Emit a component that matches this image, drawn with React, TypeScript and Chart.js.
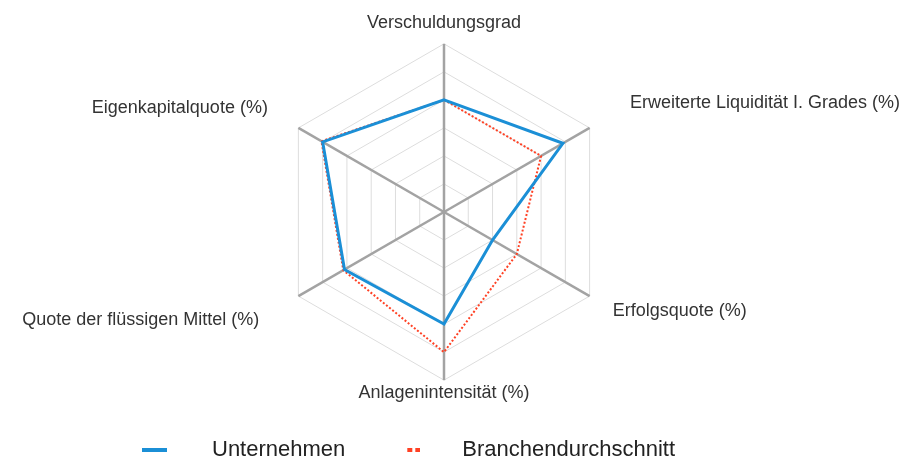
import { useEffect, useRef } from 'react';
import { Chart, registerables } from 'chart.js';

Chart.register(...registerables);

// ---- data ----
const categories = [
  'Verschuldungsgrad',
  'Erweiterte Liquidität I. Grades (%)',
  'Erfolgsquote (%)',
  'Anlagenintensität (%)',
  'Quote der flüssigen Mittel (%)',
  'Eigenkapitalquote (%)',
];
const seriesNames = ['Unternehmen', 'Branchendurchschnitt'];
const unternehmen = [4.0, 4.9, 2.0, 4.0, 4.1, 5.0];
const branchendurchschnitt = [4.0, 4.0, 3.0, 5.0, 4.15, 5.05];
const scaleMin = 0;
const scaleMax = 6;
const scaleStep = 1;

// ---- styles ----
const BLUE = '#1b8fd6';
const RED = '#ff4124';
const FONT = '"Liberation Sans", Arial, Helvetica, sans-serif';
const labelPadding = [18.7, 46.5, 26.7, 11, 45.2, 35.2];

function makeMarker(kind: 'solid' | 'dash'): HTMLCanvasElement {
  const c = document.createElement('canvas');
  if (kind === 'solid') {
    c.width = 25;
    c.height = 4;
    const g = c.getContext('2d')!;
    g.fillStyle = BLUE;
    g.fillRect(0, 0, 25, 4);
  } else {
    c.width = 31;
    c.height = 4;
    const g = c.getContext('2d')!;
    g.fillStyle = RED;
    g.fillRect(18, 0, 5, 4);
    g.fillRect(26, 0, 5, 4);
  }
  return c;
}

const legendShift = {
  id: 'legendShift',
  afterLayout(chart: any) {
    const lg = chart.legend;
    if (!lg) return;
    lg.left += 87;
    lg.right += 87;
    lg.top += 10;
    lg.bottom += 10;
  },
};

export default function App() {
  const ref = useRef<HTMLCanvasElement>(null);

  useEffect(() => {
    document.body.style.margin = '0';
    const markers = [makeMarker('solid'), makeMarker('dash')];
    const chart = new Chart(ref.current!, {
      type: 'radar',
      data: {
        labels: categories,
        datasets: [
          {
            label: seriesNames[0],
            data: unternehmen,
            borderColor: BLUE,
            backgroundColor: BLUE,
            borderWidth: 3,
            pointRadius: 0,
            fill: false,
            tension: 0,
          },
          {
            label: seriesNames[1],
            data: branchendurchschnitt,
            borderColor: RED,
            backgroundColor: RED,
            borderWidth: 2,
            borderDash: [2, 2],
            pointRadius: 0,
            fill: false,
            tension: 0,
          },
        ],
      },
      options: {
        responsive: false,
        animation: false,
        events: [],
        layout: { padding: { left: 8, right: -3, top: 2, bottom: 0 } },
        scales: {
          r: {
            min: scaleMin,
            max: scaleMax,
            ticks: { display: false, stepSize: scaleStep },
            grid: { color: '#dddddd', lineWidth: 1 },
            angleLines: { color: '#a3a3a3', lineWidth: 2.5 },
            pointLabels: {
              color: '#333333',
              font: { family: FONT, size: 18, lineHeight: 0.2 },
              padding: (ctx: any) => labelPadding[ctx.index],
            },
          },
        },
        plugins: {
          tooltip: { enabled: false },
          legend: {
            position: 'bottom',
            align: 'start',
            labels: {
              usePointStyle: true,
              pointStyleWidth: 93,
              padding: 13,
              color: '#222222',
              font: { family: FONT, size: 22 },
              generateLabels: (c: any) => {
                const items = Chart.defaults.plugins.legend.labels.generateLabels(c);
                return items.map((it: any, i: number) => ({ ...it, pointStyle: markers[i], lineWidth: 0 }));
              },
            },
          },
        },
      },
      plugins: [legendShift],
    } as any);
    return () => chart.destroy();
  }, []);

  return (
    <div style={{ width: 920, height: 461 }}>
      <canvas ref={ref} width={920} height={461} style={{ display: 'block' }} />
    </div>
  );
}
